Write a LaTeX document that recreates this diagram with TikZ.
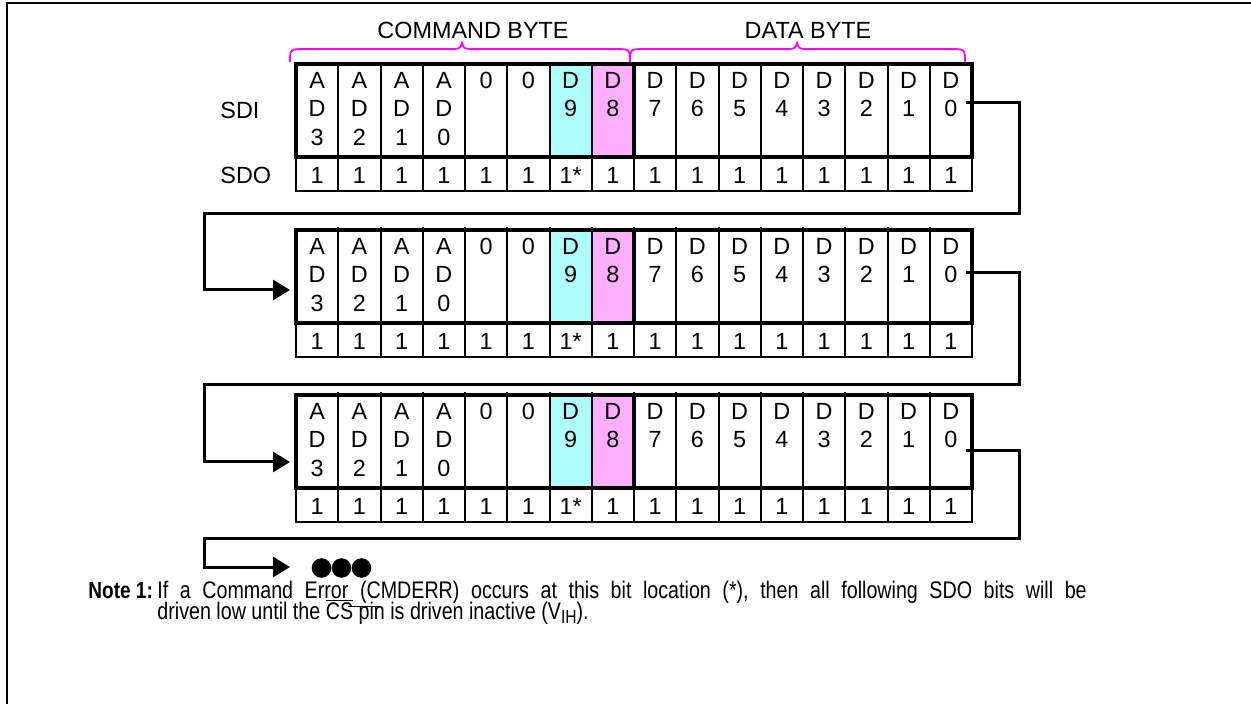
\documentclass[tikz,border=0pt]{standalone}
\usepackage{fontspec}
\setmainfont{Liberation Sans}
\usetikzlibrary{arrows.meta}
\definecolor{bitcyan}{RGB}{175,255,255}
\definecolor{bitpink}{RGB}{255,175,255}
\definecolor{bracemagenta}{RGB}{255,0,255}
\tikzset{
  frame line/.style={line width=1.4pt,black},
  grid line/.style={line width=1pt,black},
  box line/.style={line width=2.2pt,black},
  brace line/.style={line width=0.9pt,bracemagenta},
  link line/.style={line width=1.5pt,black},
  link arrow/.style={link line,-{Triangle[length=8.5pt,width=10pt]}},
  bit label/.style={inner sep=0pt,anchor=base,font=\fontsize{11.7}{14}\selectfont},
  side label/.style={inner sep=0pt,anchor=base west,font=\fontsize{11.7}{14}\selectfont},
  head label/.style={inner sep=0pt,anchor=base,font=\fontsize{11.7}{14}\selectfont},
  note text/.style={inner sep=0pt,anchor=base west,font=\fontsize{12}{14}\selectfont},
}
\newcommand{\narrowtext}[1]{\scalebox{0.82}[1]{#1}}
% #1 = top edge, #2 = row name, #3 = overshoot of dividers
\newcommand{\drawBitRow}[3]{
\fill[bitcyan] (549.5,#1) rectangle (591.75,#1+93);
\fill[bitpink] (591.75,#1) rectangle (634,#1+93);
\foreach \i in {1,...,15}
  \draw[grid line] ({296+42.25*\i},#1-#3) -- ({296+42.25*\i},#1+127);
\draw[grid line] (296,#1+93) -- (296,#1+127) -- (972,#1+127) -- (972,#1+93);
\draw[box line] (296,#1) rectangle (972,#1+93);
\draw[box line] (634,#1) -- (634,#1+93);
\foreach \a/\b/\c [count=\i from 0] in {A/D/3,A/D/2,A/D/1,A/D/0,0//,0//,D/9/,D/8/,D/7/,D/6/,D/5/,D/4/,D/3/,D/2/,D/1/,D/0/}{
  \node[bit label] (#2-a\i) at ({317.1+42.25*\i},#1+24.5) {\a};
  \node[bit label] (#2-b\i) at ({317.1+42.25*\i},#1+52.5) {\b};
  \node[bit label] (#2-c\i) at ({317.1+42.25*\i},#1+81.5) {\c};
}
\foreach \s [count=\i from 0] in {1,1,1,1,1,1,1*,1,1,1,1,1,1,1,1,1}
  \node[bit label] (#2-sdo\i) at ({317.1+42.25*\i},#1+119.5) {\s};
}
% #1 = left end, #2 = right end, #3 = cusp
\newcommand{\drawByteBrace}[3]{
\draw[brace line] (#1,62) .. controls (#1,49) .. (#1+16,49) -- (#3-14,49)
  .. controls (#3-2,49) .. (#3,43) .. controls (#3+2,49) .. (#3+14,49)
  -- (#2-16,49) .. controls (#2,49) .. (#2,62);
}

\begin{document}
\begin{tikzpicture}[x=0.5pt,y=-0.5pt]
\useasboundingbox (0,0) rectangle (1251,704);
\draw[frame line] (7,704) -- (7,3) -- (1251,3);

\node[head label] (cmd head) at (473,38.5) {COMMAND BYTE};
\node[head label] (data head) at (808,38.5) {DATA BYTE};
\drawByteBrace{290}{630}{462}
\drawByteBrace{630}{965}{797}

\node[side label] (sdi) at (220,118.5) {SDI};
\node[side label] (sdo) at (220,183.5) {SDO};

\drawBitRow{64}{rowA}{0}
\drawBitRow{230}{rowB}{3}
\drawBitRow{395}{rowC}{3}

\coordinate (outA) at (966,103);
\coordinate (turnA) at (1019,214);
\coordinate (backA) at (204,290);
\coordinate (inB) at (290,290);
\coordinate (outB) at (966,273);
\coordinate (turnB) at (1019,385);
\coordinate (backB) at (204,462);
\coordinate (inC) at (290,462);
\coordinate (outC) at (966,451);
\coordinate (turnC) at (1019,539);
\coordinate (backC) at (204,567);
\coordinate (inD) at (290,567);

\draw[link arrow] (outA) -| (turnA) -| (backA) -- (inB);
\draw[link arrow] (outB) -| (turnB) -| (backB) -- (inC);
\draw[link arrow] (outC) -| (turnC) -| (backC) -- (inD);

\foreach \k in {0,1,2}
  \fill ({321.5+20*\k},568) circle[radius=9.8];

\node[note text,font=\fontsize{11.6}{14}\selectfont] (note head) at (88,598.5) {\narrowtext{\bfseries Note 1:}};
\node[note text] (note one) at (157,598.5) {\narrowtext{\spaceskip=7.05pt If a Command Error\underline{ (C}MDERR) occurs at this bit location (*), then all following SDO bits will be}};
\node[note text] (note two) at (157,619.5) {\narrowtext{driven low until the $\overline{\mbox{CS}}$ pin is driven inactive (V\raisebox{-0.35ex}{\fontsize{9.5}{10}\selectfont IH}).}};
\end{tikzpicture}
\end{document}
